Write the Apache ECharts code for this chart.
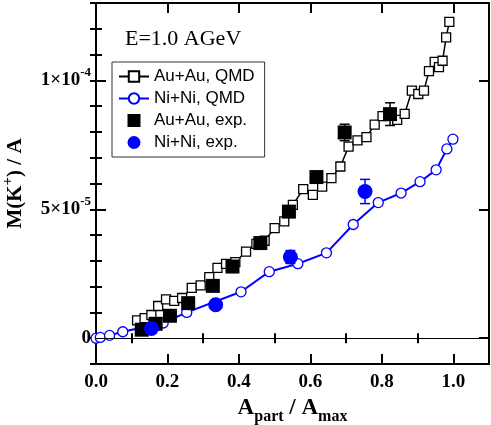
<!DOCTYPE html>
<html>
<head>
<meta charset="utf-8">
<script src="https://cdn.jsdelivr.net/npm/echarts@6/dist/echarts.min.js"></script>
<style>
  html, body { margin: 0; padding: 0; background: #fff; }
  #main { width: 491px; height: 425px; }
</style>
</head>
<body>
<div id="main"></div>
<script>
// Au+Au QMD (open squares)
var auQmdX = [0.115, 0.136, 0.155, 0.174, 0.196, 0.219, 0.241, 0.268, 0.293, 0.317, 0.340, 0.364, 0.390, 0.420, 0.449, 0.472, 0.500, 0.527, 0.551, 0.580, 0.607, 0.633, 0.659, 0.684, 0.707, 0.732, 0.757, 0.780, 0.802, 0.843, 0.864, 0.884, 0.902, 0.918, 0.932, 0.948, 0.960, 0.970, 0.980, 0.989];
var auQmdY = [0.69, 0.78, 0.90, 1.25, 1.51, 1.45, 1.56, 1.95, 2.05, 2.37, 2.73, 2.88, 2.95, 3.36, 3.66, 3.78, 4.27, 4.53, 5.17, 5.78, 5.56, 5.88, 6.21, 6.66, 7.43, 7.67, 7.80, 8.28, 8.61, 8.47, 8.70, 9.60, 9.47, 9.60, 10.36, 10.72, 10.51, 10.76, 11.67, 12.27];
// Ni+Ni QMD (open circles)
var niQmdX = [0.000, 0.012, 0.038, 0.075, 0.188, 0.254, 0.406, 0.485, 0.565, 0.645, 0.720, 0.790, 0.854, 0.907, 0.952, 0.982, 0.999];
var niQmdY = [0.00, 0.03, 0.11, 0.25, 0.59, 1.00, 1.80, 2.58, 2.89, 3.31, 4.41, 5.26, 5.63, 6.07, 6.53, 7.34, 7.72];
// Au+Au experiment (filled squares), error in same units
var auExpX = [0.128, 0.167, 0.207, 0.258, 0.327, 0.382, 0.460, 0.540, 0.617, 0.696, 0.823];
var auExpY = [0.33, 0.56, 0.87, 1.36, 2.03, 2.78, 3.69, 4.91, 6.25, 7.98, 8.69];
var auExpErr = [0, 0, 0, 0, 0, 0, 0, 0, 0, 0.32, 0.44];
// Ni+Ni experiment (filled circles)
var niExpX = [0.155, 0.335, 0.544, 0.753];
var niExpY = [0.38, 1.30, 3.15, 5.69];
var niExpErr = [0, 0, 0.25, 0.47];
// values above are in units of 1e-5
var unit = 1e-5;

var xMajor = [0, 0.2, 0.4, 0.6, 0.8, 1.0];
var xMinor = [0.1, 0.3, 0.5, 0.7, 0.9];
var yMajor = [0, 5e-5, 1e-4];
var yMajorMant = ['0', '5', '1'];
var yMajorExp = ['', '-5', '-4'];

function pairs(xs, ys) {
    return xs.map(function (x, i) { return [x, ys[i] * unit]; });
}
function errs(xs, ys, es) {
    var out = [];
    xs.forEach(function (x, i) {
        if (es[i] > 0) out.push([x, (ys[i] - es[i]) * unit, (ys[i] + es[i]) * unit]);
    });
    return out;
}

var serif = 'Liberation Serif';
var sans = 'Liberation Sans';
var blue = '#0000ff';
var squareIcon = 'path://M0,0L10,0L10,10L0,10Z';

function yLabel(v) {
    for (var i = 0; i < yMajor.length; i++) {
        if (Math.abs(v - yMajor[i]) < 1e-9) {
            if (!yMajorExp[i]) return '{b|' + yMajorMant[i] + '}';
            return '{b|' + yMajorMant[i] + '×10}{sup|' + yMajorExp[i] + '}';
        }
    }
    return '';
}

function errorRender(color) {
    return function (params, api) {
        var lo = api.coord([api.value(0), api.value(1)]);
        var hi = api.coord([api.value(0), api.value(2)]);
        var w = 5;
        var st = { stroke: color, lineWidth: 1.5 };
        return {
            type: 'group',
            children: [
                { type: 'line', shape: { x1: lo[0], y1: lo[1], x2: hi[0], y2: hi[1] }, style: st },
                { type: 'line', shape: { x1: lo[0] - w, y1: lo[1], x2: lo[0] + w, y2: lo[1] }, style: st },
                { type: 'line', shape: { x1: hi[0] - w, y1: hi[1], x2: hi[0] + w, y2: hi[1] }, style: st }
            ]
        };
    };
}

var chartDom = document.getElementById('main');
var myChart = echarts.init(chartDom);
var option;

var axisLine = { show: true, onZero: false, lineStyle: { color: '#000', width: 2 } };
var noLabel = { show: false };

option = {
    animation: false,
    title: {
        text: 'E=1.0 AGeV',
        left: 120,
        top: 23,
        textStyle: { fontFamily: serif, fontWeight: 'normal', fontSize: 22, color: '#000' }
    },
    legend: {
        orient: 'vertical',
        left: 112,
        top: 62,
        padding: [6, 10, 6, 6],
        itemGap: 5,
        itemWidth: 30,
        itemHeight: 13,
        borderColor: '#333',
        borderWidth: 1,
        backgroundColor: '#fff',
        textStyle: { fontFamily: sans, fontSize: 17, color: '#000' },
        data: [
            'Au+Au, QMD',
            'Ni+Ni, QMD',
            { name: 'Au+Au, exp.', icon: squareIcon },
            { name: 'Ni+Ni, exp.', icon: 'circle' }
        ]
    },
    grid: { left: 96, right: 2, top: 3, bottom: 61, outerBoundsMode: 'none' },
    xAxis: [
        {
            type: 'value', position: 'bottom', min: 0, max: 1.1,
            axisLine: axisLine,
            axisTick: { inside: true, length: 10, customValues: xMajor, lineStyle: { width: 2, color: '#000' } },
            axisLabel: {
                customValues: xMajor, margin: 9,
                formatter: function (v) { return v.toFixed(1); },
                fontFamily: serif, fontWeight: 'bold', fontSize: 19, color: '#000'
            },
            splitLine: { show: false },
            name: '{b|A}{sub|part}{b| / A}{sub|max}',
            nameLocation: 'middle',
            nameGap: 32,
            nameTextStyle: {
                rich: {
                    b: { fontFamily: serif, fontWeight: 'bold', fontSize: 23, lineHeight: 23, verticalAlign: 'top', color: '#000' },
                    sub: { fontFamily: serif, fontWeight: 'bold', fontSize: 16, lineHeight: 16, padding: [12, 0, 0, 0], verticalAlign: 'top', color: '#000' }
                }
            }
        },
        {
            type: 'value', position: 'bottom', min: 0, max: 1.1,
            axisLine: { show: false },
            axisTick: { inside: true, length: 5, customValues: xMinor, lineStyle: { width: 2, color: '#000' } },
            axisLabel: noLabel, splitLine: { show: false }
        },
        {
            type: 'value', position: 'top', min: 0, max: 1.1,
            axisLine: axisLine,
            axisTick: { inside: true, length: 10, customValues: xMajor, lineStyle: { width: 2, color: '#000' } },
            axisLabel: noLabel, splitLine: { show: false }
        },
        {
            type: 'value', position: 'top', min: 0, max: 1.1,
            axisLine: { show: false },
            axisTick: { inside: true, length: 5, customValues: xMinor, lineStyle: { width: 2, color: '#000' } },
            axisLabel: noLabel, splitLine: { show: false }
        }
    ],
    yAxis: [
        {
            type: 'value', position: 'left', min: -1e-5, max: 1.3e-4,
            axisLine: axisLine,
            axisTick: { inside: true, length: 10, customValues: yMajor, lineStyle: { width: 2, color: '#000' } },
            axisLabel: {
                customValues: yMajor, margin: 5,
                formatter: yLabel,
                rich: {
                    b: { fontFamily: serif, fontWeight: 'bold', fontSize: 19, lineHeight: 19, verticalAlign: 'bottom', color: '#000' },
                    sup: { fontFamily: serif, fontWeight: 'bold', fontSize: 13, lineHeight: 13, padding: [0, 0, 11, 0], verticalAlign: 'bottom', color: '#000' }
                }
            },
            splitLine: { show: false },
            name: '{b|M(K}{sup|+}{b|) / A}',
            nameLocation: 'middle',
            nameRotate: 90,
            nameGap: 70,
            nameTextStyle: {
                rich: {
                    b: { fontFamily: serif, fontWeight: 'bold', fontSize: 21, lineHeight: 21, verticalAlign: 'bottom', color: '#000' },
                    sup: { fontFamily: serif, fontWeight: 'bold', fontSize: 15, lineHeight: 15, padding: [0, 0, 10, 0], verticalAlign: 'bottom', color: '#000' }
                }
            }
        },
        {
            type: 'value', position: 'left', min: -1e-5, max: 1.3e-4, interval: 1e-5,
            axisLine: { show: false },
            axisTick: { inside: true, length: 6, lineStyle: { width: 2, color: '#000' } },
            axisLabel: noLabel, splitLine: { show: false }
        },
        {
            type: 'value', position: 'right', min: -1e-5, max: 1.3e-4,
            axisLine: axisLine,
            axisTick: { inside: true, length: 10, customValues: yMajor, lineStyle: { width: 2, color: '#000' } },
            axisLabel: noLabel, splitLine: { show: false }
        },
        {
            type: 'value', position: 'right', min: -1e-5, max: 1.3e-4, interval: 1e-5,
            axisLine: { show: false },
            axisTick: { inside: true, length: 6, lineStyle: { width: 2, color: '#000' } },
            axisLabel: noLabel, splitLine: { show: false }
        }
    ],
    series: [
        {
            name: 'Au+Au, QMD', type: 'line',
            data: pairs(auQmdX, auQmdY),
            symbol: 'rect', symbolSize: 9,
            itemStyle: { color: '#fff', borderColor: '#000', borderWidth: 1.3 },
            lineStyle: { color: '#000', width: 1.5 },
            z: 2,
            markLine: {
                silent: true, symbol: 'none', label: { show: false },
                lineStyle: { color: '#000', width: 1, type: 'solid' },
                data: [{ yAxis: 0 }]
            }
        },
        {
            name: 'Ni+Ni, QMD', type: 'line',
            data: pairs(niQmdX, niQmdY),
            symbol: 'circle', symbolSize: 10,
            itemStyle: { color: '#fff', borderColor: blue, borderWidth: 1.3 },
            lineStyle: { color: blue, width: 2 },
            z: 2
        },
        {
            name: 'Au+Au, exp.', type: 'scatter',
            data: pairs(auExpX, auExpY),
            symbol: 'rect', symbolSize: 14,
            itemStyle: { color: '#000', opacity: 1 },
            z: 4
        },
        {
            name: 'Ni+Ni, exp.', type: 'scatter',
            data: pairs(niExpX, niExpY),
            symbol: 'circle', symbolSize: 15,
            itemStyle: { color: blue, opacity: 1 },
            z: 4
        },
        {
            type: 'custom', renderItem: errorRender('#000'),
            data: errs(auExpX, auExpY, auExpErr), z: 4
        },
        {
            type: 'custom', renderItem: errorRender(blue),
            data: errs(niExpX, niExpY, niExpErr), z: 4
        }
    ]
};
option && myChart.setOption(option);
</script>
</body>
</html>
